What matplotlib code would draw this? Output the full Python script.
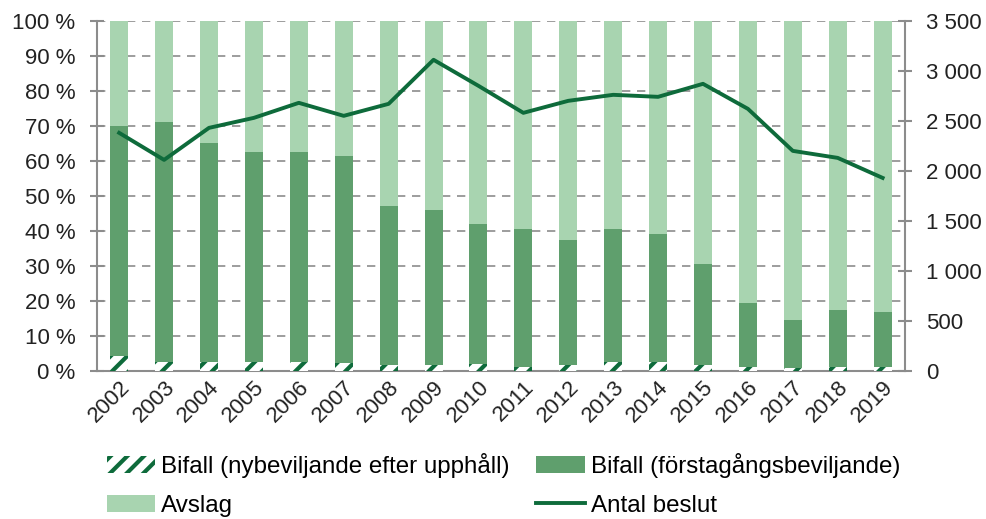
import numpy as np
import matplotlib.pyplot as plt

plt.rcParams['font.family'] = ['Liberation Sans', 'DejaVu Sans']
plt.rcParams['hatch.linewidth'] = 3

# data
years = [str(y) for y in range(2002, 2020)]
bifall_ny = [4.3, 2.6, 2.6, 2.6, 2.6, 2.3, 1.7, 1.7, 2.0, 1.2, 1.7, 2.6, 2.6, 1.7, 1.2, 0.8, 1.2, 1.2]
bifall_total = [70, 71, 65, 62.5, 62.5, 61.5, 47, 46, 42, 40.5, 37.5, 40.5, 39, 30.5, 19.5, 14.5, 17.5, 17]
antal_beslut = [2380, 2110, 2430, 2530, 2680, 2550, 2670, 3110, 2850, 2580,
                2700, 2760, 2740, 2870, 2620, 2200, 2130, 1930]

bifall_forsta = [t - n for t, n in zip(bifall_total, bifall_ny)]
avslag = [100 - t for t in bifall_total]

c_light = '#a8d4b0'
c_mid = '#5f9f6d'
c_dark = '#0e6b3b'
c_grey = '#8c8c8c'

fig, ax = plt.subplots(figsize=(9.87, 5.19), dpi=100)
fig.subplots_adjust(left=0.098, right=0.917, top=0.96, bottom=0.285)

x = np.arange(len(years))
w = 0.4
b1 = ax.bar(x, bifall_ny, w, color='white', edgecolor=c_dark, hatch='//', linewidth=0,
            label='Bifall (nybeviljande efter upphåll)', zorder=3)
b2 = ax.bar(x, bifall_forsta, w, bottom=bifall_ny, color=c_mid,
            label='Bifall (förstagångsbeviljande)', zorder=3)
b3 = ax.bar(x, avslag, w, bottom=bifall_total, color=c_light, label='Avslag', zorder=3)

ax.set_xlim(-0.5, len(years) - 0.5)
ax.set_ylim(0, 100)
ax.set_yticks(range(0, 101, 10))
ax.set_yticklabels([f'{v} %' for v in range(0, 101, 10)])
ax.set_xticks(x)
ax.set_xticklabels(years, rotation=45, ha='right', rotation_mode='anchor')
ax.yaxis.grid(True, linestyle=(0, (5, 4)), color=c_grey, linewidth=1.2)
ax.set_axisbelow(True)

ax2 = ax.twinx()
ln, = ax2.plot(x, antal_beslut, color=c_dark, linewidth=2.8, label='Antal beslut', zorder=4)
ax2.set_ylim(0, 3500)
ax2.set_yticks(range(0, 3501, 500))
ax2.set_yticklabels([f'{v:,}'.replace(',', ' ') for v in range(0, 3501, 500)])

for a in (ax, ax2):
    for s in a.spines.values():
        s.set_visible(False)
    a.tick_params(labelsize=16, colors='#222222', length=0)
for a, side in ((ax, 'left'), (ax, 'bottom'), (ax2, 'right')):
    a.spines[side].set_visible(True)
    a.spines[side].set_color(c_grey)
    a.spines[side].set_linewidth(1.5)
ax.tick_params(axis='y', length=10.5, width=1.5, color=c_grey, direction='inout', pad=10)
ax2.tick_params(axis='y', length=10.5, width=1.5, color=c_grey, direction='inout', pad=10)
ax.tick_params(axis='x', pad=4)

fig.legend(handles=[b1, b3, b2, ln], loc='upper left',
           bbox_to_anchor=(107 / 987, 1 - 453 / 519),
           ncol=2, frameon=False, fontsize=17.4, handlelength=2.0, handletextpad=0.25,
           columnspacing=1.1, labelspacing=0.7, borderpad=0, borderaxespad=0)

fig.savefig('out.png', dpi=100)
